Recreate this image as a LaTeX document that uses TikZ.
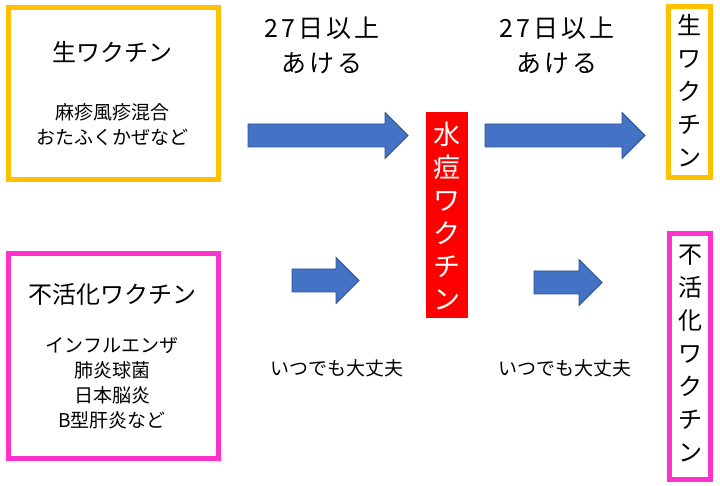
\documentclass[tikz,border=0pt]{standalone}
\usepackage{fontspec}
\setmainfont{Noto Sans CJK JP}
\definecolor{livegold}{HTML}{FFC000}
\definecolor{inactpink}{HTML}{FF33CC}
\definecolor{arrowblue}{HTML}{4472C4}
\definecolor{arrowline}{HTML}{2F528F}
\tikzset{
    livebox/.style={draw=livegold, line width=5pt},
    inactbox/.style={draw=inactpink, line width=5pt},
    blockarrow/.style={fill=arrowblue, draw=arrowline, line width=0.8pt},
    boxtitle/.style={font=\fontsize{24}{30}\selectfont},
    boxlist/.style={font=\fontsize{19}{25}\selectfont, align=center},
    waittext/.style={font=\fontsize{25}{35}\selectfont\addfontfeature{LetterSpace=12}, align=center},
    oktext/.style={font=\fontsize{19}{24}\selectfont},
    vtext/.style={font=\fontsize{24}{33}\selectfont, align=center, inner sep=0pt}
}
% block arrow: start x, end x, middle y
\newcommand{\blockarrow}[3]{%
    \draw[blockarrow] (#1,#3-11.5) -- (#2-23,#3-11.5) -- (#2-23,#3-23) -- (#2,#3)
        -- (#2-23,#3+23) -- (#2-23,#3+11.5) -- (#1,#3+11.5) -- cycle;}
\begin{document}
\begin{tikzpicture}[x=1pt, y=-1pt]
    \useasboundingbox (0,0) rectangle (720,486);
    % left boxes
    \node[livebox, minimum width=210pt, minimum height=172pt] (live) at (113.5,93.5) {};
    \node[boxtitle] (livetitle) at (112,52) {生ワクチン};
    \node[boxlist] (livelist) at (112,125) {麻疹風疹混合\\おたふくかぜなど};
    \node[inactbox, minimum width=210pt, minimum height=205pt] (inact) at (113.5,356) {};
    \node[boxtitle] (inacttitle) at (112,294) {不活化ワクチン};
    \node[boxlist] (inactlist) at (112,383) {インフルエンザ\\肺炎球菌\\日本脳炎\\B型肝炎など};
    % middle
    \node[fill=red, minimum width=42pt, minimum height=206pt, inner sep=0pt] (vari) at (447,215) {};
    \node[vtext, font=\fontsize{27}{33}\selectfont, text=white] (varitext) at (447,215.5)
        {水\\痘\\ワ\\ク\\チ\\ン};
    % right boxes
    \node[livebox, minimum width=42pt, minimum height=171pt] (live2) at (689.5,92) {};
    \node[vtext] (live2text) at (689.5,91) {生\\ワ\\ク\\チ\\ン};
    \node[inactbox, minimum width=41pt, minimum height=246pt] (inact2) at (690,356.5) {};
    \node[vtext] (inact2text) at (690,353.5) {不\\活\\化\\ワ\\ク\\チ\\ン};
    % labels
    \node[waittext] (wait1) at (322,45) {27日以上\\あける};
    \node[waittext] (wait2) at (557,45) {27日以上\\あける};
    \node[oktext] (ok1) at (337,368) {いつでも大丈夫};
    \node[oktext] (ok2) at (565,368) {いつでも大丈夫};
    % arrows
    \blockarrow{248}{408}{135.5}
    \blockarrow{485}{645}{135.5}
    \blockarrow{292}{359}{280.5}
    \blockarrow{534}{602}{282.5}
\end{tikzpicture}
\end{document}
